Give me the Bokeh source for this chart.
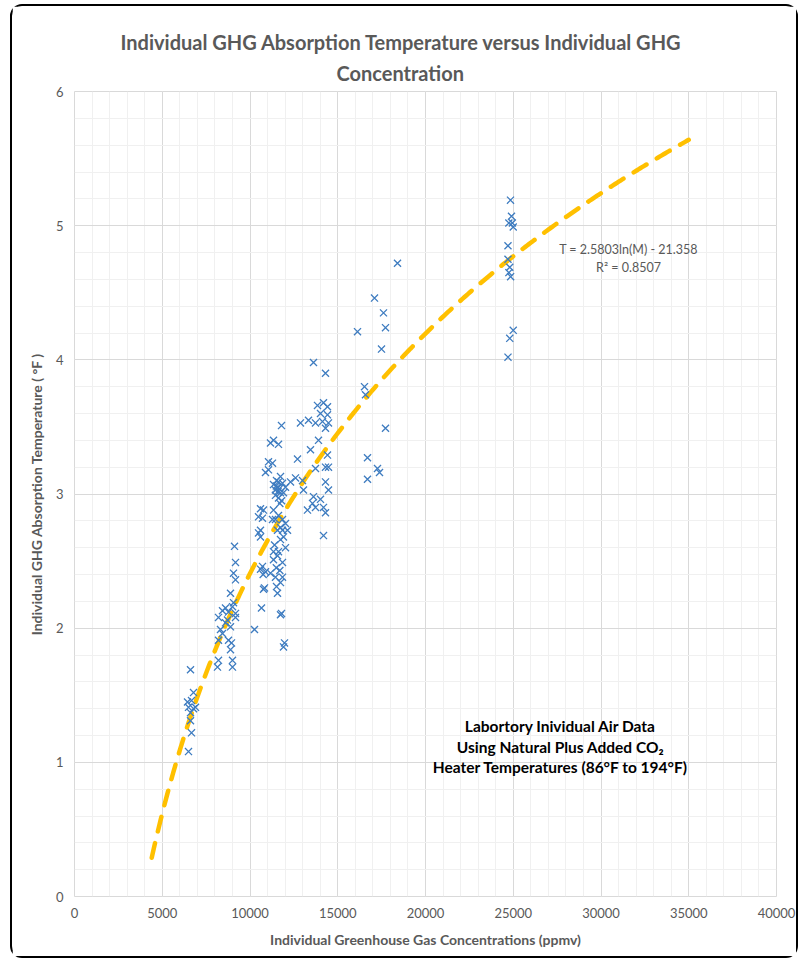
import numpy as np
from bokeh.plotting import figure
from bokeh.models import Range1d, SingleIntervalTicker, Label, Title, ColumnDataSource
from bokeh.embed import file_html
from bokeh.resources import INLINE

# ---- data ----
conc_ppmv = [
    # ~6500 cluster
    6610, 6781, 6439, 6667, 6496, 6781, 6895, 6610, 6610, 6667, 6496,
    # 8000-9300 cluster
    8148, 8205, 9003, 9003, 8889, 8946, 8205, 8775, 8433, 8319, 8889, 8604, 8718,
    8205, 9174, 9174, 8775, 8433, 8604, 9003, 9060, 8889, 9174, 9060, 9174, 9117,
    # 10000-12600 cluster
    10256, 10655, 11738, 11795, 11966, 11909, 11567, 11510, 10826, 10712, 10883,
    11168, 11453, 11738, 11852, 11339, 11567, 11852, 11624, 11339, 12023, 11738,
    11909, 11852, 11567, 12137, 10598, 10598, 10484, 10598, 10769, 11339, 11624,
    11852, 12023, 11738, 11453, 11282, 11567, 11339, 11624, 11852, 11453, 11738,
    12023, 11453, 11624, 11909, 12308, 12593, 11054, 10883, 11282, 11054, 11168,
    11624, 11339, 11795, 10712, 10484, 11738, 11510, 11680, 11600, 11500, 11700,
    11800, 11400, 11500, 11700, 10600, 10750, 10769,
    # 12700-14500 cluster
    12877, 13333, 13846, 14188, 14416, 14017, 14416, 13732, 14131, 14302, 12707,
    13447, 14416, 14302, 14302, 13618, 14017, 13276, 14188, 14302, 14188, 12991,
    13048, 13903, 14473, 14473, 14473, 13732, 13561, 13732, 13618, 14302,
    # 16000-18500
    18405, 17094, 17607, 16125, 17721, 17493, 16524, 16581, 17721, 16695, 17265,
    17379, 16695,
    # ~25000
    24843, 24900, 24750, 24950, 25000, 24700, 24700, 24800, 24750, 24850, 25000,
    24800, 24700,
]
temp_f = [
    1.69, 1.52, 1.45, 1.46, 1.41, 1.40, 1.41, 1.37, 1.31, 1.22, 1.08,
    1.71, 1.76, 1.71, 1.76, 1.84, 1.89, 1.91, 1.91, 1.96, 1.99, 2.01, 2.04, 2.06,
    2.08, 2.08, 2.11, 2.12, 2.13, 2.15, 2.16, 2.19, 2.26, 2.36, 2.41, 2.49, 2.61,
    1.99, 2.15, 2.10, 2.11, 1.89, 1.86, 2.26, 2.31, 2.30, 2.46, 2.42,
    2.41, 2.38, 2.34, 2.38, 2.51, 2.54, 2.49, 2.57, 2.57, 2.60, 2.66,
    2.68, 2.73, 2.73, 2.73, 2.68, 2.73, 2.83, 2.89, 2.88, 2.88, 2.84,
    2.81, 2.78, 2.75, 2.81, 2.81, 3.05, 3.07, 3.09, 3.08, 3.03, 3.01,
    3.05, 2.99, 2.97, 3.01, 3.09, 3.12, 3.18, 3.16, 3.23, 3.24, 3.38,
    3.37, 3.40, 3.51, 2.82, 2.71, 3.13, 3.10, 3.04, 3.02, 3.06, 2.93,
    2.95, 2.62, 2.45, 2.43, 2.44, 2.40, 2.29,
    3.53, 3.55, 3.66, 3.68, 3.65, 3.60, 3.59, 3.53, 3.54, 3.49, 3.26,
    3.33, 3.29, 3.20, 3.09, 2.98, 2.96, 2.88, 2.90, 2.86, 2.69, 3.10,
    3.03, 3.40, 3.53, 3.20, 3.03, 3.19, 2.93, 2.90, 3.98, 3.90,
    4.72, 4.46, 4.35, 4.21, 4.24, 4.08, 3.80, 3.74, 3.49, 3.27, 3.19,
    3.16, 3.11,
    5.19, 5.07, 5.02, 5.02, 4.99, 4.85, 4.75, 4.69, 4.65, 4.62, 4.22,
    4.16, 4.02,
]

# logarithmic trendline shown on the chart: T = a*ln(M) + b
trend_a = 2.5803
trend_b = -21.358
trend_x_start = 4400
trend_x_end = 35000

x_ticks = [0, 5000, 10000, 15000, 20000, 25000, 30000, 35000, 40000]
y_ticks = [0, 1, 2, 3, 4, 5, 6]

title_line1 = "Individual GHG Absorption Temperature versus Individual GHG"
title_line2 = "Concentration"
x_label = "Individual Greenhouse Gas Concentrations (ppmv)"
y_label = "Individual GHG Absorption Temperature ( \u00b0F )"
eq_line1 = "T = 2.5803ln(M) - 21.358"
eq_line2 = "R\u00b2 = 0.8507"
note_lines = ["Labortory Inividual Air Data",
              "Using Natural Plus Added CO\u2082",
              "Heater Temperatures (86\u00b0F to 194\u00b0F)"]

FONT = "Lato"
GREY = "#595959"

p = figure(width=788, height=954, output_backend="svg", toolbar_location=None,
           x_range=Range1d(x_ticks[0], x_ticks[-1]), y_range=Range1d(y_ticks[0], y_ticks[-1]),
           min_border_left=62, min_border_right=24, min_border_top=85, min_border_bottom=64)
p.styles = {"border": "2px solid black", "border-radius": "12px",
            "margin-left": "10px", "margin-top": "4px"}

p.add_layout(Title(text=title_line2, align="left", text_font_size="20px", text_font_style="bold",
                   text_color=GREY, text_font=FONT, standoff=14, offset=262), "above")
p.add_layout(Title(text=title_line1, align="left", text_font_size="20px", text_font_style="bold",
                   text_color=GREY, text_font=FONT, standoff=-4, offset=46), "above")

p.xaxis.ticker = SingleIntervalTicker(interval=5000, num_minor_ticks=5)
p.yaxis.ticker = SingleIntervalTicker(interval=1, num_minor_ticks=5)
for ax in (p.xaxis[0], p.yaxis[0]):
    ax.axis_line_color = None
    ax.major_tick_line_color = None
    ax.minor_tick_line_color = None
    ax.major_label_text_font = FONT
    ax.major_label_text_font_size = "13px"
    ax.major_label_text_color = GREY
    ax.axis_label_text_font = FONT
    ax.axis_label_text_font_size = "14px"
    ax.axis_label_text_font_style = "bold"
    ax.axis_label_text_color = GREY
p.xaxis.axis_label = x_label
p.yaxis.axis_label = y_label
p.xaxis.major_label_standoff = 5
p.yaxis.major_label_standoff = 5
p.xaxis.axis_label_standoff = 10
p.yaxis.axis_label_standoff = 8

p.xgrid.grid_line_color = "#D9D9D9"
p.ygrid.grid_line_color = "#D9D9D9"
p.xgrid.minor_grid_line_color = "#F0F0F0"
p.ygrid.minor_grid_line_color = "#F0F0F0"
p.outline_line_color = "#D9D9D9"

# trendline
tx = np.linspace(trend_x_start, trend_x_end, 300)
ty = trend_a * np.log(tx) + trend_b
p.line(tx, ty, line_color="#FFC000", line_width=4.5, line_dash="15 12", line_cap="round")

src = ColumnDataSource(dict(x=conc_ppmv, y=temp_f))
p.scatter("x", "y", source=src, marker="x", size=10, line_color="#3E7CC0", line_width=1.3)

p.add_layout(Label(x=31567, y=4.82, text=eq_line1, text_align="center", text_baseline="middle",
                   text_font=FONT, text_font_size="12.5px", text_color=GREY))
p.add_layout(Label(x=31567, y=4.69, text=eq_line2, text_align="center", text_baseline="middle",
                   text_font=FONT, text_font_size="12.5px", text_color=GREY))
for txt, yy in zip(note_lines, [1.269, 1.116, 0.963]):
    p.add_layout(Label(x=27692, y=yy, text=txt, text_align="center", text_baseline="middle",
                       text_font=FONT, text_font_size="15.5px", text_font_style="bold",
                       text_color="black"))

open("out.html", "w").write(file_html(p, INLINE))
